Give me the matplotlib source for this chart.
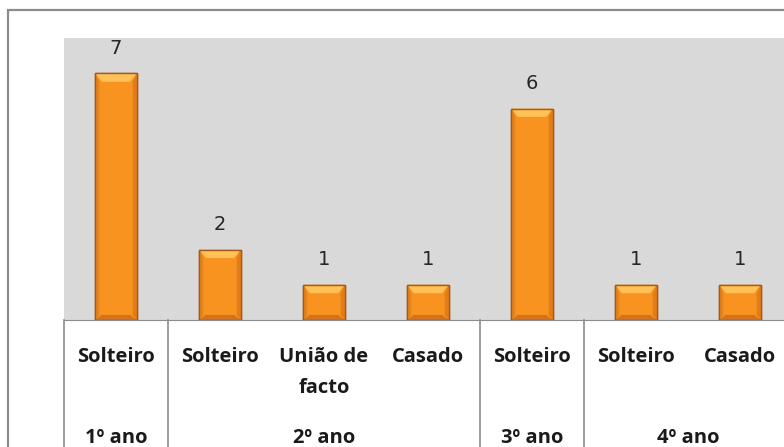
import numpy as np
import matplotlib
matplotlib.use("Agg")
import matplotlib.pyplot as plt
from matplotlib.patches import Rectangle, Polygon

# dados
categorias = ["Solteiro", "Solteiro", "União de\nfacto", "Casado", "Solteiro", "Solteiro", "Casado"]
valores = [7, 2, 1, 1, 6, 1, 1]
grupos = ["1º ano", "2º ano", "3º ano", "4º ano"]
grupo_tamanho = [1, 3, 1, 2]

W, H = 784, 447
PT = 72 / 100  # px -> pt
fig = plt.figure(figsize=(W / 100, H / 100), dpi=100)
fig.patch.set_facecolor("white")

# moldura exterior (cortada à direita e em baixo)
fig.patches.append(Rectangle((8 / W, -0.1), 1.2, 437 / H + 0.1, transform=fig.transFigure,
                             fill=False, edgecolor="#8c8c8c", lw=1.6))

ax = fig.add_axes([64 / W, 127 / H, 728 / W, 282 / H])
ax.set_facecolor("#d9d9d9")
x = np.arange(len(valores))
bars = ax.bar(x, valores, width=0.4, color="#f7931e", edgecolor="#a9581a", lw=1.0, zorder=3)

# efeito de bisel
for b in bars:
    x0, w, h = b.get_x(), b.get_width(), b.get_height()
    d = 0.16 * w
    dy = 0.24
    ax.add_patch(Polygon([[x0, h], [x0 + w, h], [x0 + w - d, h - dy], [x0 + d, h - dy]],
                         closed=True, facecolor="#ffc158", edgecolor="none", zorder=4))
    ax.add_patch(Polygon([[x0, 0], [x0 + w, 0], [x0 + w - d, dy * 0.6], [x0 + d, dy * 0.6]],
                         closed=True, facecolor="#d6731c", edgecolor="none", zorder=4))
    ax.add_patch(Polygon([[x0, 0], [x0 + d * 0.6, dy * 0.6], [x0 + d * 0.6, h - dy], [x0, h]],
                         closed=True, facecolor="#e4821d", edgecolor="none", zorder=4))
    ax.add_patch(Polygon([[x0 + w, 0], [x0 + w - d * 0.6, dy * 0.6], [x0 + w - d * 0.6, h - dy], [x0 + w, h]],
                         closed=True, facecolor="#e07c1c", edgecolor="none", zorder=4))
    ax.add_patch(Rectangle((x0, 0), w, h, fill=False, edgecolor="#a9581a", lw=1.0, zorder=5))
    ax.annotate(str(int(h)), (x0 + w / 2, h), xytext=(0, 25 * PT), textcoords="offset points",
                ha="center", va="center", fontsize=14, color="#262626", family="DejaVu Sans")

ax.set_xlim(-0.5, len(valores) - 0.5)
ax.set_ylim(0, 8)
ax.set_xticks([])
ax.set_yticks([])
for s in ["top", "left", "right"]:
    ax.spines[s].set_visible(False)
ax.spines["bottom"].set_color("#8c8c8c")

# tabela de rótulos por baixo
sep = np.concatenate([[0], np.cumsum(grupo_tamanho)]) - 0.5
for s in sep:
    ax.plot([s, s], [0, -4], color="#8c8c8c", lw=1.2, clip_on=False)

for i, c in enumerate(categorias):
    ax.annotate(c, (i, 0), xytext=(0, -27 * PT), textcoords="offset points", ha="center",
                va="top", fontsize=14.5, fontweight="bold", family="Open Sans",
                color="#1a1a1a", linespacing=1.75)

inicio = 0
for g, n in zip(grupos, grupo_tamanho):
    centro = inicio + (n - 1) / 2
    ax.annotate(g, (centro, 0), xytext=(0, -123 * PT), textcoords="offset points", ha="center",
                va="baseline", fontsize=14.5, fontweight="bold", family="Open Sans", color="#1a1a1a")
    inicio += n

fig.savefig("out.png", dpi=100)
